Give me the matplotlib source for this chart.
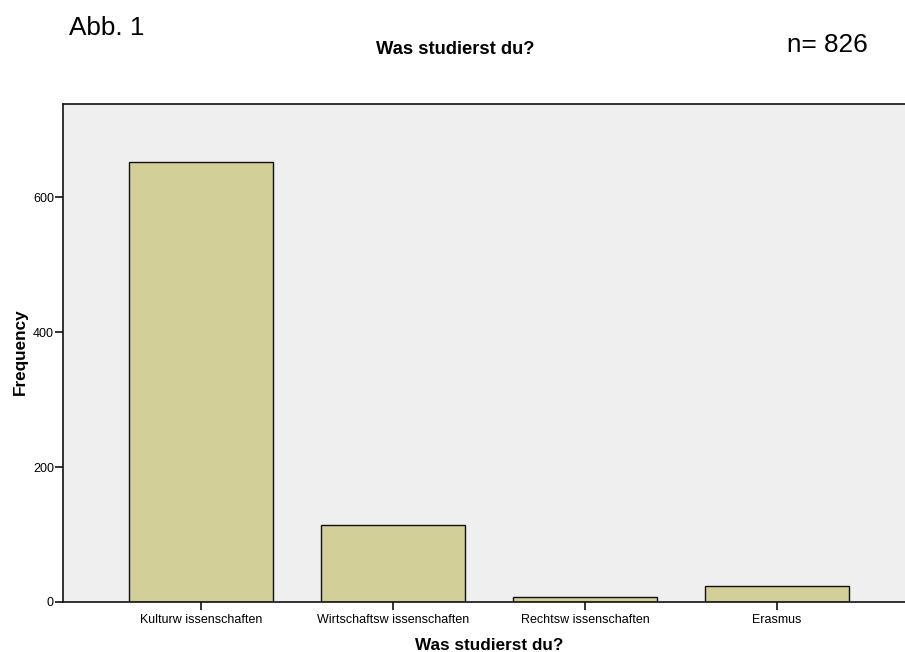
import matplotlib
matplotlib.use("Agg")
import matplotlib.pyplot as plt

categories = ["Kulturw issenschaften", "Wirtschaftsw issenschaften", "Rechtsw issenschaften", "Erasmus"]
frequencies = [652, 114, 7, 24]
yticks = [0, 200, 400, 600]

plt.rcParams['font.family'] = ['Liberation Sans', 'DejaVu Sans']

fig = plt.figure(figsize=(9.05, 6.52), dpi=100)
ax = fig.add_axes([63/905, 1-602/652, (915-63)/905, (602-104)/652])
ax.set_facecolor('#EFEFEF')

x = list(range(len(categories)))
ax.bar(x, frequencies, width=0.75, color='#D3CF98', edgecolor='#111111', linewidth=1.0)

ax.set_xlim(-0.719, 3.719)
ax.set_ylim(0, 738)
ax.set_yticks(yticks)
ax.set_yticklabels([str(v) for v in yticks], fontsize=9)
ax.set_xticks(x)
ax.set_xticklabels(categories, fontsize=9)
ax.tick_params(axis='y', direction='out', length=5.5, width=1.2, color='#111111', pad=1)
ax.tick_params(axis='x', direction='out', length=5.5, width=1.2, color='#111111', pad=3)

for s in ['left', 'bottom', 'top', 'right']:
    ax.spines[s].set_linewidth(1.2)
    ax.spines[s].set_color('#111111')

ax.set_ylabel('Frequency', fontsize=12.3, fontweight='bold')
ax.yaxis.set_label_coords((28-63)/852, 0.503)
ax.set_xlabel('Was studierst du?', fontsize=12.3, fontweight='bold', labelpad=8.5)

fig.text(455/905, 1-49/652, 'Was studierst du?', fontsize=13.2, fontweight='bold', ha='center', va='center')
fig.text(69/905, 1-28/652, 'Abb. 1', fontsize=18.8, ha='left', va='center')
fig.text(868/905, 1-45/652, 'n= 826', fontsize=18.8, ha='right', va='center')

fig.savefig('out.png', dpi=100)
